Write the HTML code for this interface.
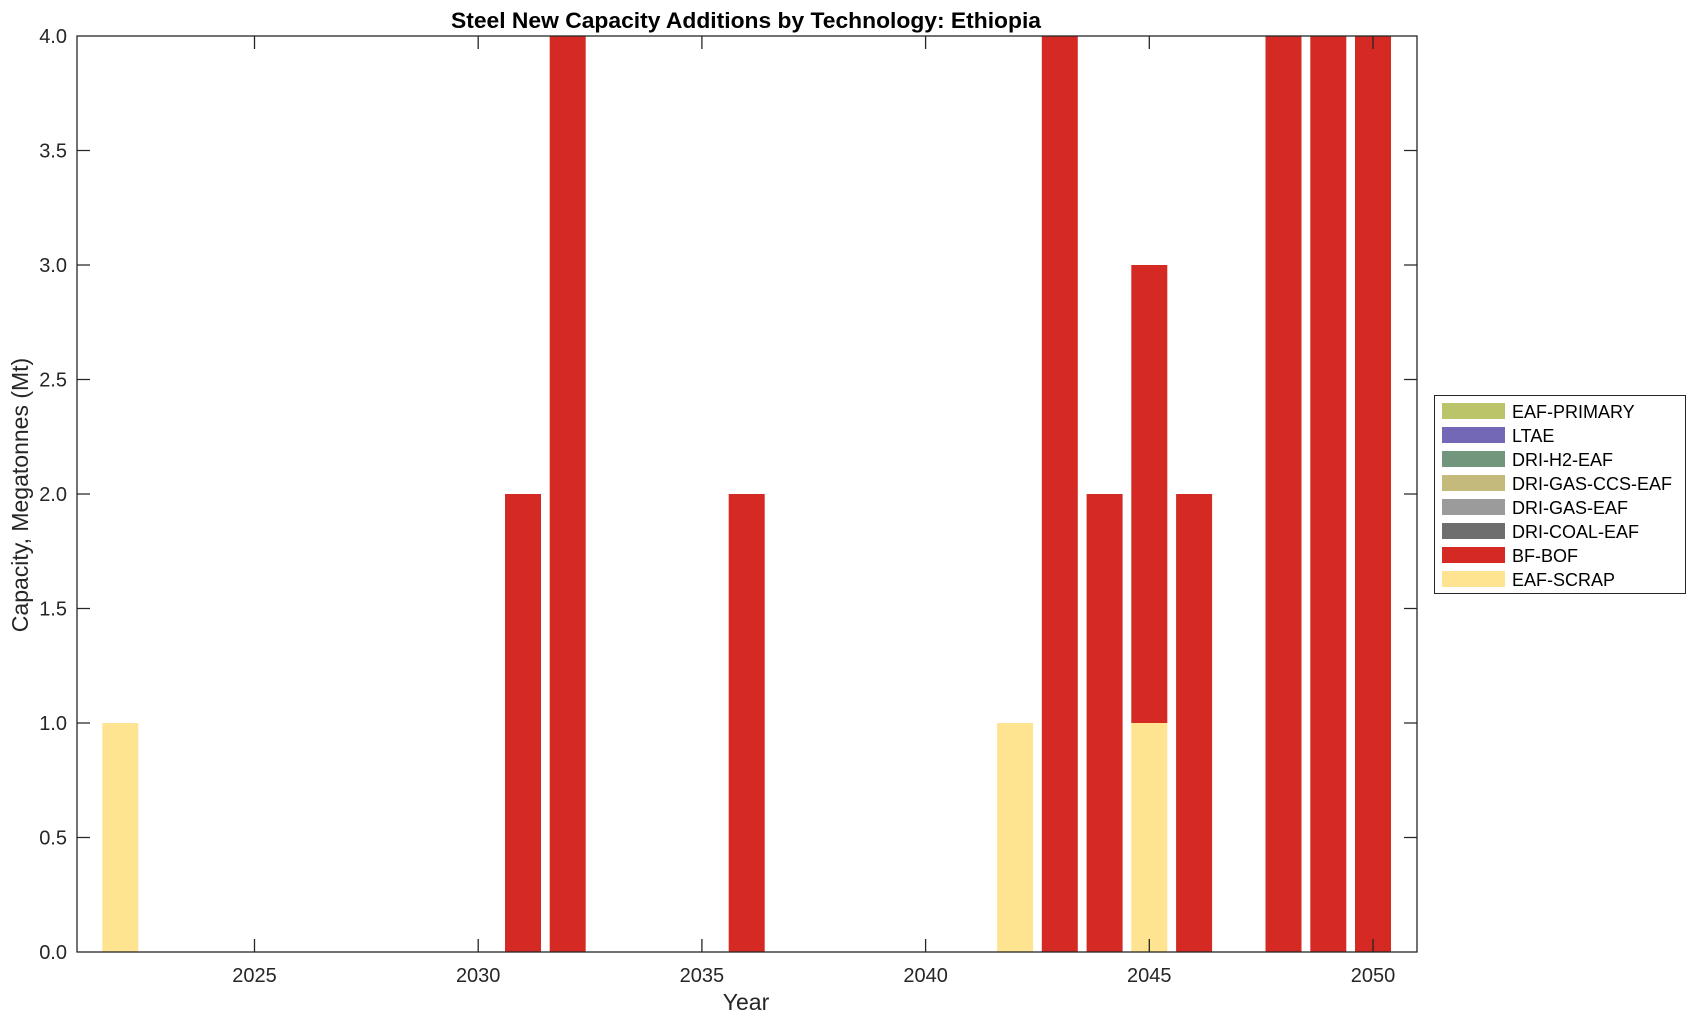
<!DOCTYPE html>
<html><head><meta charset="utf-8"><style>
html,body{margin:0;padding:0;background:#fff;}
svg{display:block;font-family:"Liberation Sans",Arial,sans-serif;}
</style></head><body>
<svg width="1696" height="1021" viewBox="0 0 1696 1021" xmlns="http://www.w3.org/2000/svg">
<rect width="1696" height="1021" fill="#fff"/>
<g id="bars">
<rect x="102.3" y="723" width="36" height="229" fill="#fee391"/>
<rect x="505" y="494" width="36" height="458" fill="#d42a23"/>
<rect x="549.7" y="36" width="36" height="916" fill="#d42a23"/>
<rect x="728.7" y="494" width="36" height="458" fill="#d42a23"/>
<rect x="997.1" y="723" width="36" height="229" fill="#fee391"/>
<rect x="1041.8" y="36" width="36" height="916" fill="#d42a23"/>
<rect x="1086.6" y="494" width="36" height="458" fill="#d42a23"/>
<rect x="1131.3" y="723" width="36" height="229" fill="#fee391"/>
<rect x="1131.3" y="265" width="36" height="458" fill="#d42a23"/>
<rect x="1176.1" y="494" width="36" height="458" fill="#d42a23"/>
<rect x="1265.5" y="36" width="36" height="916" fill="#d42a23"/>
<rect x="1310.3" y="36" width="36" height="916" fill="#d42a23"/>
<rect x="1355.0" y="36" width="36" height="916" fill="#d42a23"/>
</g>
<rect x="77" y="36" width="1340" height="916" fill="none" stroke="#262626" stroke-width="1.3"/>
<g stroke="#262626" stroke-width="1.3">
<path d="M254.5 952v-13M254.5 36v13M478.2 952v-13M478.2 36v13M701.9 952v-13M701.9 36v13M925.6 952v-13M925.6 36v13M1149.3 952v-13M1149.3 36v13M1373 952v-13M1373 36v13"/>
<path d="M77 837.5h13M1417 837.5h-13M77 723h13M1417 723h-13M77 608.5h13M1417 608.5h-13M77 494h13M1417 494h-13M77 379.5h13M1417 379.5h-13M77 265h13M1417 265h-13M77 150.5h13M1417 150.5h-13"/>
</g>
<g fill="#262626" font-size="20" text-anchor="middle">
<text x="254.5" y="982">2025</text>
<text x="478.2" y="982">2030</text>
<text x="701.9" y="982">2035</text>
<text x="925.6" y="982">2040</text>
<text x="1149.3" y="982">2045</text>
<text x="1373" y="982">2050</text>
</g>
<g fill="#262626" font-size="20" text-anchor="end">
<text x="67" y="959">0.0</text>
<text x="67" y="844.5">0.5</text>
<text x="67" y="730">1.0</text>
<text x="67" y="615.5">1.5</text>
<text x="67" y="501">2.0</text>
<text x="67" y="386.5">2.5</text>
<text x="67" y="272">3.0</text>
<text x="67" y="157.5">3.5</text>
<text x="67" y="43">4.0</text>
</g>
<text x="746" y="1010" font-size="23" text-anchor="middle" fill="#262626">Year</text>
<text transform="translate(28,495) rotate(-90)" font-size="23" text-anchor="middle" fill="#262626">Capacity, Megatonnes (Mt)</text>
<text x="746" y="28" font-size="22.5" font-weight="bold" text-anchor="middle" fill="#000" textLength="590" lengthAdjust="spacingAndGlyphs">Steel New Capacity Additions by Technology: Ethiopia</text>
<g>
<rect x="1434.5" y="395.5" width="251" height="198" fill="#fff" stroke="#262626" stroke-width="1"/>
<g font-size="18" fill="#000">
<rect x="1442" y="403" width="63" height="16" fill="#bcc46a"/><text x="1512" y="418">EAF-PRIMARY</text>
<rect x="1442" y="427" width="63" height="16" fill="#7268b5"/><text x="1512" y="442">LTAE</text>
<rect x="1442" y="451" width="63" height="16" fill="#71967b"/><text x="1512" y="466">DRI-H2-EAF</text>
<rect x="1442" y="475" width="63" height="16" fill="#c4ba7c"/><text x="1512" y="490">DRI-GAS-CCS-EAF</text>
<rect x="1442" y="499" width="63" height="16" fill="#9b9b9b"/><text x="1512" y="514">DRI-GAS-EAF</text>
<rect x="1442" y="523" width="63" height="16" fill="#6e6e6e"/><text x="1512" y="538">DRI-COAL-EAF</text>
<rect x="1442" y="547" width="63" height="16" fill="#d42a23"/><text x="1512" y="562">BF-BOF</text>
<rect x="1442" y="571" width="63" height="16" fill="#fee391"/><text x="1512" y="586">EAF-SCRAP</text>
</g>
</g>
</svg>
</body></html>
